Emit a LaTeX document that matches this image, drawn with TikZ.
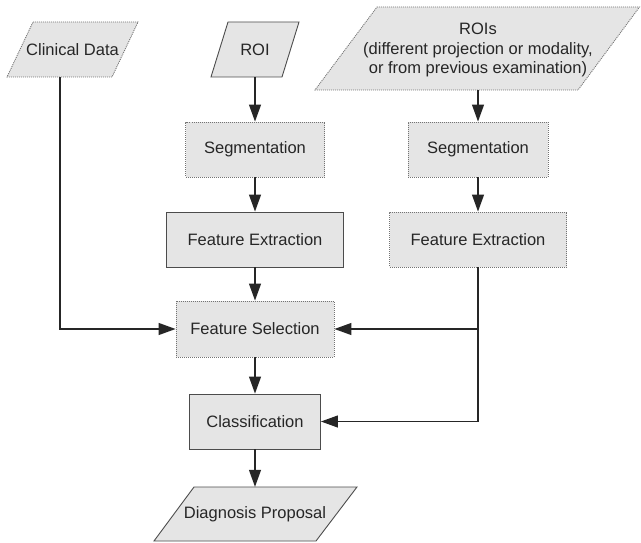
\documentclass[tikz,border=0pt]{standalone}
\usepackage{fontspec}
\setmainfont{Liberation Sans}
\usetikzlibrary{arrows.meta}
\begin{document}
\begin{tikzpicture}[x=1pt,y=-1pt,
  font=\fontsize{16.5}{19.5}\selectfont,
  every node/.style={text=black!85, inner sep=0pt, align=center},
  boxsolid/.style={draw=black!70, line width=0.9pt, fill=black!10, minimum height=55pt},
  boxdot/.style={draw=black!55, line width=0.9pt, dash pattern=on 1pt off 1pt, fill=black!10, minimum height=55pt},
  paratext/.style={minimum height=55pt},
  parasolid/.style={draw=black!70, line width=0.9pt, fill=black!10},
  paradot/.style={draw=black!55, line width=0.9pt, dash pattern=on 1pt off 1pt, fill=black!10},
  conn/.style={draw=black!85, line width=1.2pt},
  arr/.style={conn, -{Triangle[length=17pt,width=12pt]}}]
\useasboundingbox (0,0) rectangle (641,543);

% parallelograms
\draw[paradot] (33,22) -- (138,22) -- (112,77) -- (7,77) -- cycle;
\node[paratext] (clin) at (72.5,49.5) {Clinical Data};

\draw[parasolid] (228,22) -- (299,22) -- (282,77) -- (211,77) -- cycle;
\node[paratext] (roi) at (255,49.5) {ROI};

\draw[paradot] (377,7) -- (639.5,7) -- (578,90) -- (315,90) -- cycle;
\node[minimum height=80pt] (rois) at (478,50) {ROIs\\(different projection or modality,\\or from previous examination)};

\draw[parasolid] (194,487) -- (357,487) -- (316,541) -- (154,541) -- cycle;
\node[minimum height=54pt] (dp) at (255,514) {Diagnosis Proposal};

% boxes
\node[boxdot, minimum width=139pt] (seg1) at (255,149.5) {Segmentation};
\node[boxdot, minimum width=140pt] (seg2) at (478,149.5) {Segmentation};
\node[boxsolid, minimum width=177pt] (fe1) at (255,239.5) {Feature Extraction};
\node[boxdot, minimum width=177pt] (fe2) at (478,239.5) {Feature Extraction};
\node[boxdot, minimum width=158pt, minimum height=56pt] (fs) at (255,329) {Feature Selection};
\node[boxsolid, minimum width=131pt] (cls) at (255,421.5) {Classification};

% connectors
\coordinate (cl) at (60,329);
\draw[arr] (roi.south) -- (seg1.north);
\draw[arr] (seg1.south) -- (fe1.north);
\draw[arr] (fe1.south) -- (fs.north);
\draw[arr] (fs.south) -- (cls.north);
\draw[arr] (cls.south) -- (dp.north);
\draw[arr] (rois.south) -- (seg2.north);
\draw[arr] (seg2.south) -- (fe2.north);
\draw[arr] (clin.south -| cl) |- (fs.west);
\draw[arr] (fe2.south) |- (fs.east);
\draw[arr] (fe2.south) |- (cls.east);
\end{tikzpicture}
\end{document}
